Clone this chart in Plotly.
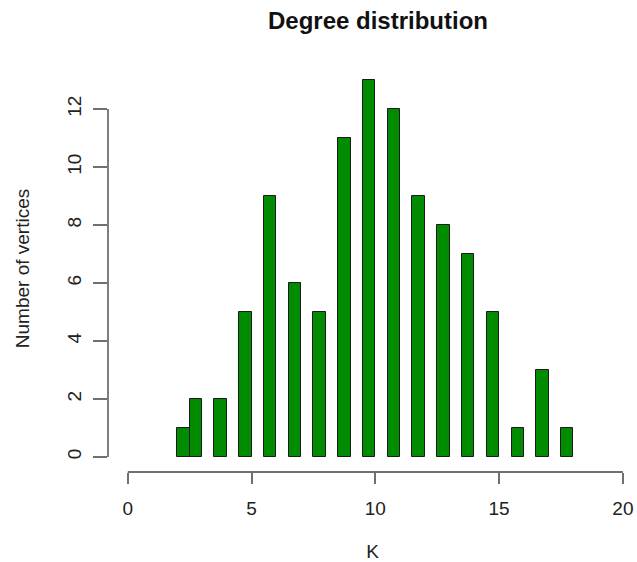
import plotly.graph_objects as go

# Degree bins (left edge of each bar) and counts
bin_left = [2.0, 2.5, 3.5, 4.5, 5.5, 6.5, 7.5, 8.5, 9.5, 10.5, 11.5, 12.5, 13.5, 14.5, 15.5, 16.5, 17.5]
counts = [1, 2, 2, 5, 9, 6, 5, 11, 13, 12, 9, 8, 7, 5, 1, 3, 1]
bar_width = 0.5
x_ticks = [0, 5, 10, 15, 20]
y_ticks = [0, 2, 4, 6, 8, 10, 12]

FONT = "Liberation Sans, Arial, Helvetica, sans-serif"
AX = "#707070"
W, H = 637, 562

fig = go.Figure()
fig.add_trace(go.Bar(
    x=[b + bar_width / 2 for b in bin_left],
    y=counts,
    width=bar_width,
    marker=dict(color="#008B00", line=dict(color="#1a1a1a", width=1)),
    showlegend=False,
))

fig.update_layout(
    width=W, height=H,
    margin=dict(l=108, r=0, t=65, b=90),
    paper_bgcolor="white", plot_bgcolor="white",
    font=dict(family=FONT, size=19, color="#222222"),
    title=dict(text="<b>Degree distribution</b>", font=dict(size=24, color="#111111"),
               xref="container", yref="container", x=378/W, y=1 - 21/H,
               xanchor="center", yanchor="middle"),
    bargap=0,
)
fig.update_xaxes(
    range=[-0.8, 20.57], tickvals=x_ticks, ticktext=[str(v) for v in x_ticks],
    showgrid=False, zeroline=False, showline=False,
    ticks="outside", ticklen=11, tickwidth=1.8, tickcolor=AX,
    ticklabelstandoff=8, ticklabeloverflow="allow",
    title=dict(text="K", font=dict(size=19), standoff=27),
)
fig.update_yaxes(
    range=[-0.52, 13.52], tickvals=y_ticks, ticktext=[str(v) for v in y_ticks],
    showgrid=False, zeroline=False, showline=False,
    ticks="outside", ticklen=14, tickwidth=1.8, tickcolor=AX,
    tickangle=-90, ticklabelstandoff=4, ticklabeloverflow="allow",
    title=dict(text="Number of vertices", font=dict(size=19), standoff=29),
)
# axis lines spanning the tick range only (R style)
fig.add_shape(type="line", xref="x", yref="paper", x0=x_ticks[0], x1=x_ticks[-1], y0=0, y1=0,
              line=dict(color=AX, width=1.8))
fig.add_shape(type="line", xref="paper", yref="y", x0=0, x1=0, y0=y_ticks[0], y1=y_ticks[-1],
              line=dict(color=AX, width=1.8))

fig.write_html(
    "out.html",
    config={"displayModeBar": False},
    post_script="document.body.style.margin='0px';document.body.style.overflow='hidden';",
)
